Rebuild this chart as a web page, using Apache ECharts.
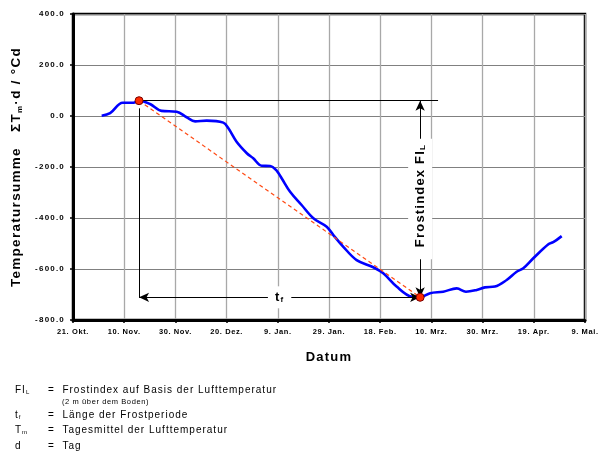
<!DOCTYPE html>
<html><head><meta charset="utf-8">
<script src="https://cdn.jsdelivr.net/npm/echarts@6/dist/echarts.min.js"></script>
<style>html,body{margin:0;padding:0;background:#fff}#c{width:607px;height:452px}</style>
</head><body><div id="c"></div>
<script>
// Letter spacing emulation (reference text is horizontally spread)
(function(){
  const SP = {'7.5px':0.6,'8px':1.2,'10px':1.0,'13px':1.2,'13.5px':1.3};
  const P = CanvasRenderingContext2D.prototype;
  function ls(ctx){
    const m = /(\d+(?:\.\d+)?)px/.exec(ctx.font || '');
    if(!m) return;
    const key = m[1]+'px';
    const v = SP[key] !== undefined ? SP[key] : parseFloat(m[1])*0.1;
    try { ctx.letterSpacing = v + 'px'; } catch(e) {}
  }
  ['fillText','strokeText','measureText'].forEach(function(fn){
    const o = P[fn];
    P[fn] = function(){ ls(this); return o.apply(this, arguments); };
  });
})();

// ---------- data ----------
const xTickLabels = ['21. Okt.','10. Nov.','30. Nov.','20. Dez.','9. Jan.','29. Jan.','18. Feb.','10. Mrz.','30. Mrz.','19. Apr.','9. Mai.'];
// days after 21. Okt.
const dayIndex = [11.2,14.5,19.4,23.6,25.8,30.1,34.6,40.5,44.4,47.7,52.2,58.7,60.7,63.9,67.9,70.4,73.7,77.0,79.6,81.5,84.8,89.3,93.9,99.1,101.7,105.6,110.8,117.3,121.2,126.4,132.3,135.6,139.5,144.6,149.9,153.5,157.7,160.9,164.8,169.4,173.3,175.9,179.8,185.7,187.6,190.9];
// cumulative temperature sum  ΣTm·d / °Cd
const tempSum = [1,11,52,52,60,47,20,17,-5,-21,-18,-26,-48,-101,-146,-166,-195,-196,-215,-244,-297,-349,-401,-434,-467,-513,-565,-593,-617,-669,-709,-711,-695,-689,-676,-689,-682,-672,-669,-643,-611,-597,-558,-503,-495,-471];
const frostStart = [25.8, 60];     // begin of frost period
const frostEnd = [135.6, -711];    // end of frost period
const fiTopLineEnd = 142.6;        // end of the FI reference line (day)
const yMin = -800, yMax = 400, yStep = 200;
const xMin = 0, xMax = 200, xStep = 20;

const FONT = 'Liberation Sans';
const chart = echarts.init(document.getElementById('c'), null, {renderer:'canvas'});

const arrowLine = {color:'#000', width:1, type:'solid'};
const option = {
  animation:false,
  backgroundColor:'#fff',
  grid:{left:73, right:22, top:14, bottom:132, show:true, borderColor:'#000', borderWidth:2.5, backgroundColor:'transparent'},
  xAxis:{
    type:'value', min:xMin, max:xMax, interval:xStep,
    name:'Datum', nameLocation:'middle', nameGap:30,
    nameTextStyle:{fontFamily:FONT, fontWeight:'bold', fontSize:13, color:'#000'},
    axisLine:{show:true, onZero:false, lineStyle:{color:'#000', width:3}},
    axisTick:{show:true, length:3, lineStyle:{color:'#000', width:1.5}},
    axisLabel:{fontFamily:FONT, fontWeight:'bold', fontSize:7.5, color:'#000', margin:8,
      formatter:function(v){ return xTickLabels[Math.round((v-xMin)/xStep)] || ''; }},
    splitLine:{show:true, lineStyle:{color:'#a8a8a8', width:1.3}}
  },
  yAxis:{
    type:'value', min:yMin, max:yMax, interval:yStep,
    name:'Temperatursumme   ΣT{s|m}·d / °Cd', nameLocation:'middle', nameRotate:90, nameGap:40,
    nameTextStyle:{fontFamily:FONT, fontWeight:'bold', fontSize:13.5, color:'#000', lineHeight:16, verticalAlign:'middle',
      rich:{s:{fontFamily:FONT, fontWeight:'bold', fontSize:8, lineHeight:4, verticalAlign:'bottom'}}},
    axisLine:{show:true, onZero:false, lineStyle:{color:'#000', width:3}},
    axisTick:{show:true, length:3, lineStyle:{color:'#000', width:1.5}},
    axisLabel:{fontFamily:FONT, fontWeight:'bold', fontSize:8, color:'#000', margin:8,
      formatter:function(v){ return v.toFixed(1); }},
    splitLine:{show:true, lineStyle:{color:'#808080', width:1}}
  },
  series:[
    {
      type:'line', name:'Temperatursumme', z:3,
      data: dayIndex.map(function(d,i){ return [d, tempSum[i]]; }),
      smooth:0.35, showSymbol:false, symbol:'none',
      lineStyle:{color:'#0000ff', width:2.6}
    },
    {
      type:'line', name:'Frostindex', z:4,
      data:[frostStart, frostEnd], showSymbol:false, symbol:'none',
      lineStyle:{color:'#ff4a14', width:1.2, type:[4,3]}
    },
    {
      type:'line', name:'annot', data:[], z:5,
      markLine:{
        silent:true, animation:false,
        symbol:['none','none'], symbolSize:[7,10],
        lineStyle:arrowLine,
        label:{show:false},
        data:[
          [{coord:[frostStart[0], frostStart[1]]}, {coord:[fiTopLineEnd, frostStart[1]]}],
          [{coord:[frostStart[0], frostStart[1]-30]}, {coord:[frostStart[0], frostEnd[1]]}],
          [{coord:[frostEnd[0], frostEnd[1]], symbol:'arrow', symbolSize:[7,10],
            label:{show:true, position:'middle', distance:0, verticalAlign:'middle', align:'center',
              formatter:'{b|Frostindex FI}{s|L}', backgroundColor:'#fff', padding:[5,5,5,12],
              rich:{b:{fontFamily:FONT, fontWeight:'bold', fontSize:13, color:'#000', lineHeight:14, verticalAlign:'middle'},
                    s:{fontFamily:FONT, fontWeight:'bold', fontSize:8, color:'#000', lineHeight:4, verticalAlign:'bottom'}}}},
           {coord:[frostEnd[0], frostStart[1]], symbol:'arrow', symbolSize:[7,10]}],
          [{coord:[frostStart[0], frostEnd[1]], symbol:'arrow', symbolSize:[7,10],
            label:{show:true, position:'middle', distance:0, verticalAlign:'middle', align:'center',
              formatter:'{b|t}{s|f}', backgroundColor:'#fff', padding:[4,7,4,7],
              rich:{b:{fontFamily:FONT, fontWeight:'bold', fontSize:13, color:'#000', lineHeight:14, verticalAlign:'middle'},
                    s:{fontFamily:FONT, fontWeight:'bold', fontSize:8, color:'#000', lineHeight:4, verticalAlign:'bottom'}}}},
           {coord:[frostEnd[0], frostEnd[1]], symbol:'arrow', symbolSize:[7,10]}]
        ]
      }
    },
    {
      type:'scatter', name:'Frostperiode', z:6,
      data:[frostStart, frostEnd], symbol:'circle', symbolSize:8,
      itemStyle:{color:'#ff2a00', borderColor:'#7a0000', borderWidth:1, opacity:1}
    }
  ],
  graphic:(function(){
    const rows = [
      {y:390, sym:'{a|FI}{s|L}', txt:'Frostindex auf Basis der Lufttemperatur'},
      {y:415, sym:'{a|t}{s|f}', txt:'Länge der Frostperiode'},
      {y:430, sym:'{a|T}{s|m}', txt:'Tagesmittel der Lufttemperatur'},
      {y:446, sym:'{a|d}', txt:'Tag'}
    ];
    const rich = {a:{fontFamily:FONT, fontSize:10, fill:'#000', lineHeight:12, verticalAlign:'middle'},
                  s:{fontFamily:FONT, fontSize:6, fill:'#000', lineHeight:4, verticalAlign:'bottom'}};
    const els = [];
    rows.forEach(function(r){
      els.push({type:'text', x:15, y:r.y, silent:true,
        style:{text:r.sym, rich:rich, fill:'#000', font:'10px '+FONT, verticalAlign:'middle', align:'left'}});
      els.push({type:'text', x:48, y:r.y, silent:true,
        style:{text:'=  '+r.txt, fill:'#000', font:'10px "'+FONT+'"', verticalAlign:'middle', align:'left'}});
    });
    els.push({type:'text', x:62, y:402, silent:true,
      style:{text:'(2 m über dem Boden)', fill:'#000', font:'7.5px "'+FONT+'"', verticalAlign:'middle', align:'left'}});
    return els;
  })()
};
chart.setOption(option);
</script></body></html>
